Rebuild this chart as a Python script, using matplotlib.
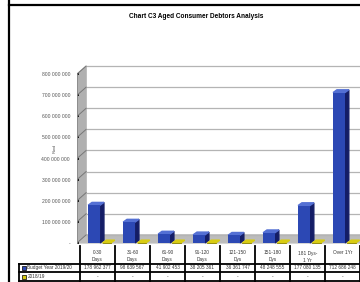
import numpy as np
import matplotlib.pyplot as plt
from matplotlib.lines import Line2D

plt.rcParams['font.family'] = ['Liberation Sans Narrow', 'Liberation Sans', 'DejaVu Sans']

# Données
categories = ["0-30\nDays", "31-60\nDays", "61-90\nDays", "91-120\nDays",
              "121-150\nDys", "151-180\nDys", "181 Dys-\n1 Yr", "Over 1Yr"]
budget_vals = [178962377, 98639567, 41902453, 38205361,
               36361747, 48248555, 177080135, 712686248]
prior_vals = [0, 0, 0, 0, 0, 0, 0, 0]
series_names = ["Budget Year 2019/20", "2018/19"]
y_ticks = [0, 100e6, 200e6, 300e6, 400e6, 500e6, 600e6, 700e6, 800e6]

BLUE, BLUE_SIDE, BLUE_TOP = "#2c48b4", "#141d66", "#5470d4"
YELLOW, YELLOW_SIDE = "#d8cc10", "#8c8400"

def fmt(v):
    return "-" if v == 0 else f"{v:,.0f}".replace(",", " ")

fig = plt.figure(figsize=(3.6, 2.82), dpi=100)

# cadre
fig.add_artist(Line2D([8.5 / 360, 8.5 / 360], [0, 1], color="black", lw=1.6))
fig.add_artist(Line2D([8.5 / 360, 1], [1 - 5 / 282, 1 - 5 / 282], color="black", lw=1.6))

fig.text(196 / 360, 1 - 17 / 282, "Chart C3 Aged Consumer Debtors Analysis",
         ha="center", va="center", fontsize=4.7, fontweight="bold")

ax = fig.add_axes([77 / 360, 1 - 245 / 282, 283 / 360, 185 / 282])
x0, x1 = -0.09, 8
ax.set_xlim(x0, x1)
ax.set_ylim(-10e6, 867e6)
for s in ax.spines.values():
    s.set_visible(False)
ax.set_xticks([])

# profondeur du mur / des barres
dx, dy = 0.26, 38e6
bdx, bdy = 0.11, 13e6
ytop = y_ticks[-1]

# mur latéral et sol
ax.fill([x0, x0 + dx, x0 + dx, x0], [0, dy, ytop + dy, ytop], color="#b0b0b0", zorder=1)
ax.fill([x0, x0 + dx, x1, x1], [0, dy, dy, 0], color="#bcbcbc", zorder=1)
for t in y_ticks:
    ax.plot([x0, x0 + dx], [t, t + dy], color="#777777", lw=0.7, zorder=2)
    ax.plot([x0 + dx, x1], [t + dy, t + dy], color="#b4b4b4", lw=0.9, zorder=1)
ax.plot([x0, x0], [0, ytop], color="#888888", lw=0.6, zorder=2)

ax.set_yticks(y_ticks)
ax.set_yticklabels([fmt(t) for t in y_ticks], fontsize=3.6, color="#555555")
ax.tick_params(axis="y", length=1.6, width=1.2, pad=5, direction="in", color="black")
ax.text(-0.72, 450e6, "Rand", rotation=90, fontsize=2.8, color="#555555",
        ha="center", va="center")

x = np.arange(len(categories))
w = 0.34
xb = x + 0.40
ax.bar(xb, budget_vals, width=w, color=BLUE, zorder=4)
for xi, v in zip(xb, budget_vals):
    r = xi + w / 2
    ax.fill([r, r + bdx, r + bdx, r], [0, bdy, v + bdy, v], color=BLUE_SIDE, zorder=3)
    ax.fill([xi - w / 2, r, r + bdx, xi - w / 2 + bdx], [v, v, v + bdy, v + bdy],
            color=BLUE_TOP, zorder=3)

wy = 0.24
xy = x + 0.76
for xi, v in zip(xy, prior_vals):
    l, r = xi - wy / 2, xi + wy / 2
    ax.fill([l, r, r + bdx, l + bdx], [v, v, v + bdy, v + bdy], color=YELLOW, zorder=3)
    ax.plot([l, r], [v, v], color=YELLOW_SIDE, lw=0.6, zorder=3)

# tableau de données
tb = fig.add_axes([18 / 360, 0, 342 / 360, 37 / 282])
tb.set_xlim(-1.77, 8)
tb.set_ylim(282, 245)
tb.axis("off")
lw = 1.3
for i in range(len(categories) + 1):
    tb.plot([i, i], [246, 281.5], color="black", lw=lw)
tb.plot([-1.74, -1.74], [263.5, 281.5], color="black", lw=lw)
for yy in (263.5, 272, 281.3):
    tb.plot([-1.74, 8], [yy, yy], color="black", lw=lw)
for i, c in enumerate(categories):
    tb.text(i + 0.5, 250.5, c, ha="center", va="top", fontsize=3.4,
            color="#333333", linespacing=1.5)
rows = [budget_vals, prior_vals]
keys = [BLUE, YELLOW]
for j, (name, vals, col) in enumerate(zip(series_names, rows, keys)):
    yc = 267.8 + j * 8.8
    tb.scatter([-1.6], [yc], s=5, marker="s", color=col, edgecolors="black",
               linewidths=0.5, zorder=5)
    tb.text(-1.5, yc, name, ha="left", va="center", fontsize=3.4, color="#333333")
    for i, v in enumerate(vals):
        tb.text(i + 0.5, yc, fmt(v), ha="center", va="center", fontsize=3.4,
                color="#333333")

plt.savefig("out.png", dpi=100)
